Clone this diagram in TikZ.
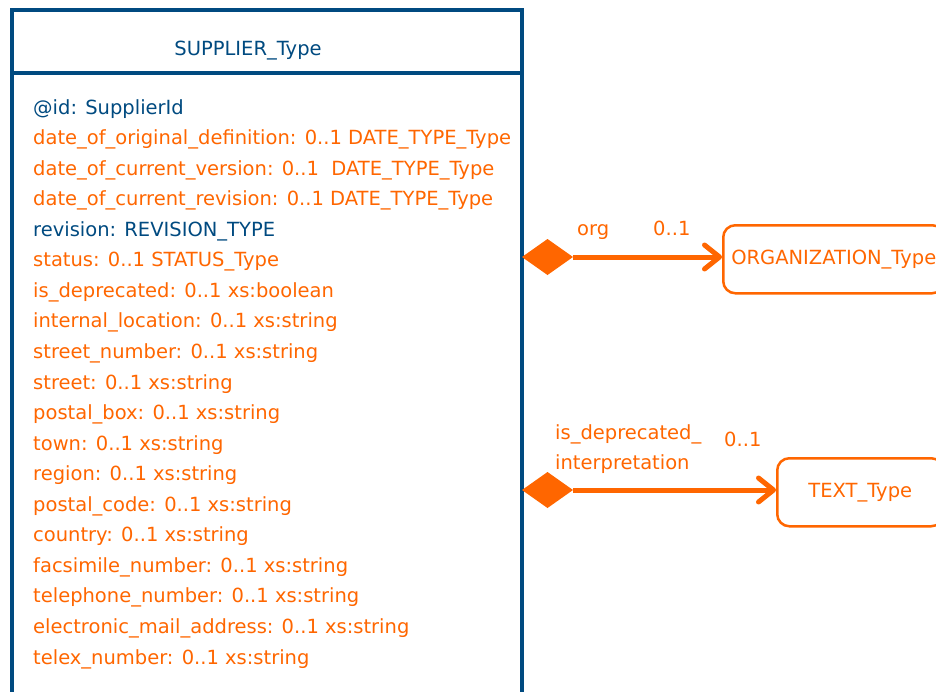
\documentclass[tikz,border=0pt]{standalone}
\usepackage{fontspec}
\setmainfont{DejaVu Sans}
\usetikzlibrary{arrows.meta}
\definecolor{umlblue}{RGB}{0,74,128}
\definecolor{umlorange}{RGB}{255,102,0}
\begin{document}
\begin{tikzpicture}[x=1pt,y=-1pt,
  font=\fontsize{19.5}{19.5}\selectfont,
  classframe/.style={draw=umlblue, line width=4pt},
  attr/.style={anchor=base west, inner sep=0pt, text=#1},
  typebox/.style={draw=umlorange, line width=2.5pt, rounded corners=12pt,
    minimum height=68pt, anchor=north west, text=umlorange, inner xsep=8pt},
  rolelabel/.style={anchor=base west, inner sep=0pt, text=umlorange, align=left},
  composition/.style={fill=umlorange},
  assoc/.style={draw=umlorange, line width=5pt,
    -{Straight Barb[length=15pt, width=24pt, line cap=round, line join=round]}}]
\useasboundingbox (0,0) rectangle (936,691);
\clip (0,0) rectangle (936,691);

% class frame (continues past the lower edge)
\coordinate (frameSW) at (12,710);
\coordinate (frameNW) at (12,10);
\coordinate (frameNE) at (522,10);
\coordinate (frameSE) at (522,710);
\draw[classframe] (frameSW) -- (frameNW) -- (frameNE) -- (frameSE);
\draw[classframe] (12,73) -- (522,73);
\node[anchor=base, inner sep=0pt, text=umlblue] (title) at (248,55) {SUPPLIER\_Type};

% attributes
\node[attr=umlblue]   (a1)  at (33,114.0) {@id: SupplierId};
\node[attr=umlorange] (a2)  at (33,144.6) {date\_of\_original\_definition: 0..1 DATE\_TYPE\_Type};
\node[attr=umlorange] (a3)  at (33,175.1) {date\_of\_current\_version: 0..1 \ DATE\_TYPE\_Type};
\node[attr=umlorange] (a4)  at (33,205.7) {date\_of\_current\_revision: 0..1 DATE\_TYPE\_Type};
\node[attr=umlblue]   (a5)  at (33,236.2) {revision: REVISION\_TYPE};
\node[attr=umlorange] (a6)  at (33,266.8) {status: 0..1 STATUS\_Type};
\node[attr=umlorange] (a7)  at (33,297.3) {is\_deprecated: 0..1 xs:boolean};
\node[attr=umlorange] (a8)  at (33,327.9) {internal\_location: 0..1 xs:string};
\node[attr=umlorange] (a9)  at (33,358.4) {street\_number: 0..1 xs:string};
\node[attr=umlorange] (a10) at (33,389.0) {street: 0..1 xs:string};
\node[attr=umlorange] (a11) at (33,419.6) {postal\_box: 0..1 xs:string};
\node[attr=umlorange] (a12) at (33,450.1) {town: 0..1 xs:string};
\node[attr=umlorange] (a13) at (33,480.7) {region: 0..1 xs:string};
\node[attr=umlorange] (a14) at (33,511.2) {postal\_code: 0..1 xs:string};
\node[attr=umlorange] (a15) at (33,541.8) {country: 0..1 xs:string};
\node[attr=umlorange] (a16) at (33,572.3) {facsimile\_number: 0..1 xs:string};
\node[attr=umlorange] (a17) at (33,602.9) {telephone\_number: 0..1 xs:string};
\node[attr=umlorange] (a18) at (33,633.4) {electronic\_mail\_address: 0..1 xs:string};
\node[attr=umlorange] (a19) at (33,664.0) {telex\_number: 0..1 xs:string};

% target types
\node[typebox] (org) at (722,224) {ORGANIZATION\_Type};
\node[typebox, minimum width=166pt] (text) at (776,457) {TEXT\_Type};

% composition: org
\coordinate (orgsrc) at (522,257);
\coordinate (orgtail) at (573,257);
\fill[composition] (orgsrc) -- (547.5,239) -- (orgtail) -- (547.5,275) -- cycle;
\draw[assoc] (orgtail) -- (org.west |- orgtail);
\node[rolelabel] (orgrole) at (577,235) {org};
\node[rolelabel] (orgmult) at (653,235) {0..1};

% composition: is_deprecated_interpretation
\coordinate (txtsrc) at (522,490);
\coordinate (txttail) at (573,490);
\fill[composition] (txtsrc) -- (547.5,472) -- (txttail) -- (547.5,508) -- cycle;
\draw[assoc] (txttail) -- (text.west |- txttail);
\node[rolelabel] (txtrole) at (555,439) {is\_deprecated\_};
\node[rolelabel] (txtrole2) at (555,469) {interpretation};
\node[rolelabel] (txtmult) at (724,446) {0..1};
\end{tikzpicture}
\end{document}
